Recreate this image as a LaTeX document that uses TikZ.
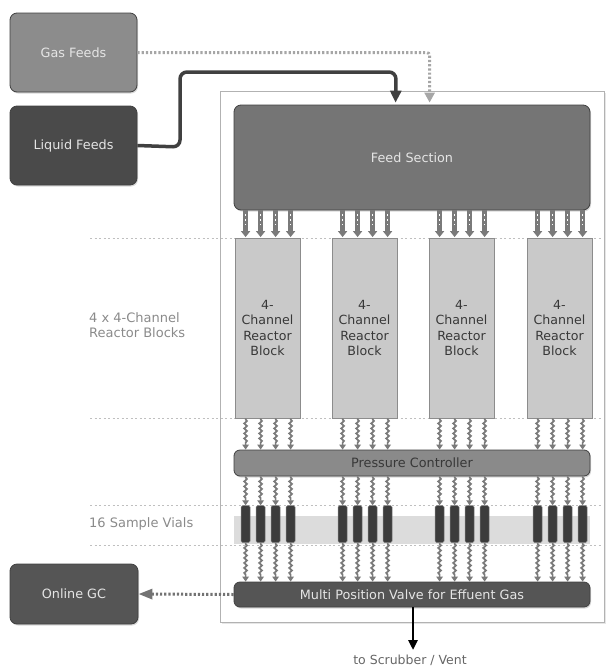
\documentclass[tikz,border=0pt]{standalone}
\usepackage{fontspec}
\setmainfont{DejaVu Sans}
\usetikzlibrary{shadows,decorations.pathmorphing,arrows.meta,calc}
\definecolor{gasgray}{HTML}{8C8C8C}
\definecolor{liqgray}{HTML}{4A4A4A}
\definecolor{feedgray}{HTML}{757575}
\definecolor{pcgray}{HTML}{8A8A8A}
\definecolor{mpvgray}{HTML}{555555}
\definecolor{blockgray}{HTML}{C9C9C9}
\definecolor{bandgray}{HTML}{DCDCDC}
\definecolor{arrgray}{HTML}{7A7A7A}
\definecolor{labgray}{HTML}{8A8A8A}
\definecolor{vialgray}{HTML}{3C3C3C}
\tikzset{
  rbox/.style={draw=black!75, line width=0.8pt, rounded corners=7pt,
    drop shadow={opacity=0.3, shadow xshift=1pt, shadow yshift=-1.5pt},
    font=\fontsize{12.8}{14}\selectfont, text=white!90!black},
  wide/.style={rbox, rounded corners=6pt, minimum width=356pt, font=\fontsize{12.8}{14}\selectfont},
  reactor/.style={draw=black!45, line width=0.8pt, fill=blockgray, minimum width=65pt,
    minimum height=180pt, align=center, text=black!78,
    font=\fontsize{12.6}{15.2}\selectfont},
  vial/.style={draw=black!50, line width=0.6pt, fill=vialgray, rounded corners=1.5pt,
    minimum width=9pt, minimum height=37pt, inner sep=0pt},
  sep/.style={draw=black!25, line width=0.6pt, dash pattern=on 2pt off 2.5pt},
  sidelab/.style={anchor=north west, align=left, text=labgray, inner sep=0pt,
    font=\fontsize{13}{15.5}\selectfont},
  feedarr/.style={draw=arrgray, line width=4.5pt, -{Triangle[width=9pt,length=6pt]}},
  feeddots/.style={draw=white, line width=1.3pt, dash pattern=on 1.3pt off 3.5pt},
  wave/.style={draw=arrgray, line width=1.7pt, decorate,
    decoration={snake, amplitude=1.4pt, segment length=5pt, pre length=1pt, post length=5pt},
    -{Triangle[width=6.5pt,length=5pt]}},
}
\begin{document}
\begin{tikzpicture}[x=1pt,y=-1pt]
\useasboundingbox (0,0) rectangle (609,667);
% outer panel
\node[draw=black!30, line width=1pt, fill=white, minimum width=384pt, minimum height=531pt,
  drop shadow={opacity=0.2, shadow xshift=1.5pt, shadow yshift=-1.5pt}] (panel) at (412,356.5) {};
% separators
\foreach \yy in {238,418,505,545} \draw[sep] (90,\yy) -- (601,\yy);
% band behind vials
\fill[bandgray] (234,516) rectangle (590,544);
% side labels
\node[sidelab] (lab1) at (89,312) {4 x 4-Channel\\Reactor Blocks};
\node[sidelab] (lab2) at (89,517) {16 Sample Vials};
% feed boxes
\node[rbox, fill=gasgray, minimum width=127pt, minimum height=79pt] (gas) at (73.5,52.5) {Gas Feeds};
\node[rbox, fill=liqgray, minimum width=127pt, minimum height=79pt] (liq) at (73.5,145.5) {Liquid Feeds};
\node[rbox, fill=feedgray, minimum width=356pt, minimum height=105pt] (fs) at (412,157.5) {Feed Section};
% reactor blocks
\foreach \i/\xx in {1/267.5,2/364.5,3/461.5,4/559.5}
  \node[reactor] (rb\i) at (\xx,328) {4-\\Channel\\Reactor\\Block};
% pressure controller and valve
\node[wide, fill=pcgray, minimum height=26pt, text=black!78] (pc) at (412,463) {Pressure Controller};
\node[wide, fill=mpvgray, minimum height=25pt] (mpv) at (412,594.5) {Multi Position Valve for Effuent Gas};
\node[rbox, fill=mpvgray, minimum width=128pt, minimum height=60pt] (gc) at (74,594) {Online GC};
% vials and arrows
\foreach \i in {1,...,4} {
  \foreach \d [count=\k] in {11,26,41,56} {
    \coordinate (t\i\k) at ($(rb\i.north west)+(\d,0)$);
    \node[vial] (v\i\k) at ($(rb\i.north west)+(\d,286.5)$) {};
    \draw[feedarr] (t\i\k |- fs.south) -- ($(t\i\k)+(0,-0.5)$);
    \draw[feeddots] ($(t\i\k |- fs.south)+(0,4)$) -- ++(0,14);
    \draw[wave] (t\i\k |- rb\i.south) -- (t\i\k |- pc.north);
    \draw[wave] (t\i\k |- pc.south) -- (v\i\k.north);
    \draw[wave] (v\i\k.south) -- (t\i\k |- mpv.north);
  }
}
% feed lines
\draw[draw=black!35, line width=3pt, dash pattern=on 2.2pt off 2pt, rounded corners=3pt,
  -{Triangle[width=10pt,length=10pt]}] (gas.east) -| ($(fs.north west)+(196,-2)$);
\draw[draw=black!75, line width=3.5pt, rounded corners=7pt, -{Triangle[width=11pt,length=12pt]}]
  (liq.east) -- (180,147) -- (180,72) -- (396,72) -- ($(fs.north west)+(162,-2)$);
% outputs
\draw[draw=black!55, line width=3pt, dash pattern=on 2.2pt off 2pt,
  -{Triangle[width=10pt,length=14pt]}] (mpv.west) -- (gc.east);
\coordinate (vent) at (413,650);
\draw[draw=black, line width=2.5pt, -{Triangle[width=9pt,length=10pt]}] (mpv.south -| vent) -- (vent);
\node[text=black!60, font=\fontsize{12.5}{13}\selectfont, inner sep=0pt] (ventlab) at (410,660) {to Scrubber / Vent};
\end{tikzpicture}
\end{document}
